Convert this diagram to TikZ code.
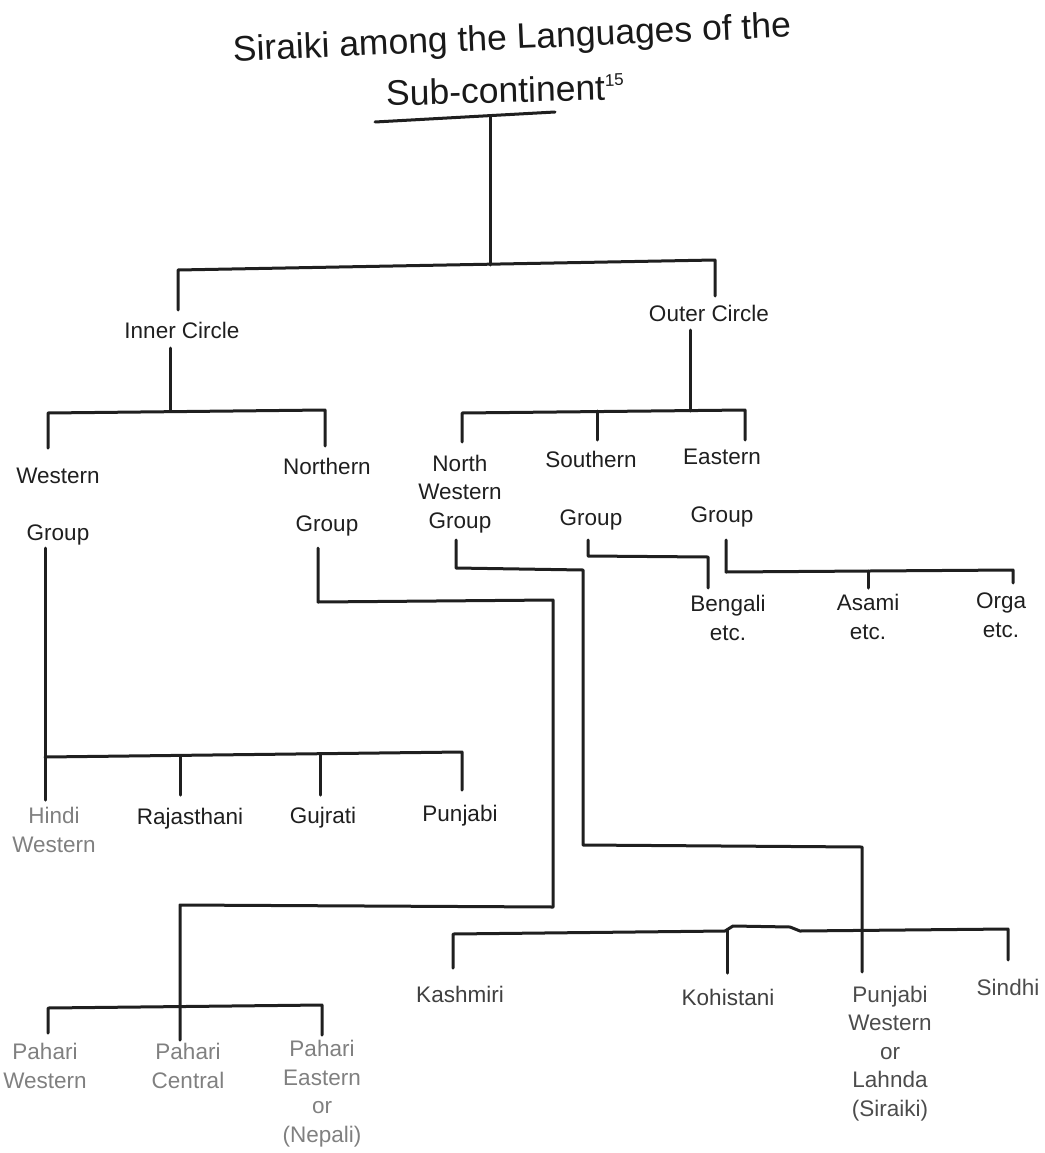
\documentclass[tikz,border=0pt]{standalone}
\usepackage{fontspec}
\setmainfont{Liberation Sans}
\begin{document}
\begin{tikzpicture}[x=1pt,y=-1pt,
  lbl/.style={font=\fontsize{22.5}{28.5}\selectfont, inner sep=0pt, anchor=base, align=center, text=black!88},
  faint/.style={text=black!50},
  ttl/.style={font=\fontsize{35.5}{40}\selectfont, inner sep=0pt, text=black!90},
  ln/.style={line width=3pt, line cap=round, line join=round, draw=black!88}]
\useasboundingbox (0,0) rectangle (1044,1153);

% ---------- title ----------
\node[ttl, rotate=2.5] (title) at (512,40) {Siraiki among the Languages of the};
\node[ttl, rotate=1.5] (title2) at (505,90) {Sub-continent\raisebox{14pt}{\fontsize{17}{20}\selectfont 15}};

% ---------- labels (anchor = baseline of the last line) ----------
\node[lbl] (inner) at (182,338) {Inner Circle};
\node[lbl] (outer) at (709,321) {Outer Circle};
\node[lbl] (western) at (58,540) {Western\\[28.5pt]Group};
\node[lbl] (northern) at (327,531) {Northern\\[28.5pt]Group};
\node[lbl] (nw) at (460,528) {North\\Western\\Group};
\node[lbl] (southern) at (591,525) {Southern\\[29pt]Group};
\node[lbl] (eastern) at (722,522) {Eastern\\[29pt]Group};
\node[lbl] (bengali) at (728,640) {Bengali\\etc.};
\node[lbl] (asami) at (868,639) {Asami\\etc.};
\node[lbl] (orga) at (1001,637) {Orga\\etc.};
\node[lbl, faint] (hindi) at (54,852) {Hindi\\Western};
\node[lbl] (rajasthani) at (190,824) {Rajasthani};
\node[lbl] (gujrati) at (323,823) {Gujrati};
\node[lbl] (punjabi) at (460,821) {Punjabi};
\node[lbl, text=black!75] (kashmiri) at (460,1002) {Kashmiri};
\node[lbl, text=black!75] (kohistani) at (728,1005) {Kohistani};
\node[lbl, text=black!70] (lahnda) at (890,1116) {Punjabi\\Western\\or\\Lahnda\\(Siraiki)};
\node[lbl, text=black!70] (sindhi) at (1008,995) {Sindhi};
\node[lbl, faint] (paharw) at (45,1088) {Pahari\\Western};
\node[lbl, faint] (paharc) at (188,1088) {Pahari\\Central};
\node[lbl, faint] (pahare) at (322,1142) {Pahari\\Eastern\\or\\(Nepali)};

% ---------- junction points ----------
\coordinate (ulL) at (375,122); \coordinate (ulR) at (555,112);
\coordinate (root) at (490,117); \coordinate (rootB) at (490,265);
\coordinate (b1L) at (178,270); \coordinate (b1R) at (715,260);
\coordinate (d1L) at (178,310); \coordinate (d1R) at (715,296);

\coordinate (inS) at (170,348); \coordinate (inB) at (170,411);
\coordinate (b2L) at (48,413); \coordinate (b2R) at (325,410);
\coordinate (d2L) at (48,448); \coordinate (d2R) at (325,446);

\coordinate (outS) at (690,330); \coordinate (outB) at (690,411);
\coordinate (b3L) at (462,413); \coordinate (b3M) at (597,411); \coordinate (b3R) at (745,410);
\coordinate (d3L) at (462,442); \coordinate (d3M) at (597,440); \coordinate (d3R) at (745,440);

\coordinate (soS) at (588,540); \coordinate (soK) at (588,556); \coordinate (soK2) at (708,557); \coordinate (soE) at (708,588);
\coordinate (eaS) at (726,540); \coordinate (eaK) at (726,572); \coordinate (eaR) at (1013,570); \coordinate (eaE) at (1013,583);
\coordinate (eaM) at (868,571); \coordinate (eaME) at (868,588);

\coordinate (nwS) at (456,540); \coordinate (nwK) at (456,568); \coordinate (nwK2) at (583,570);
\coordinate (nwK3) at (583,845); \coordinate (nwK4) at (862,847); \coordinate (nwE) at (862,972);
\coordinate (kL) at (453,934); \coordinate (kLE) at (453,968);
\coordinate (kb1) at (725,931); \coordinate (kb2) at (733,926); \coordinate (kb3) at (790,927); \coordinate (kb4) at (800,931);
\coordinate (kR) at (1008,929); \coordinate (kRE) at (1008,960);
\coordinate (kM) at (727,930); \coordinate (kME) at (727,973);

\coordinate (noS) at (318,548); \coordinate (noK) at (318,602); \coordinate (noK2) at (553,600);
\coordinate (noK3) at (553,907); \coordinate (noK4) at (180,905); \coordinate (noE) at (180,1040);
\coordinate (pL) at (48,1008); \coordinate (pLE) at (48,1033);
\coordinate (pR) at (322,1005); \coordinate (pRE) at (322,1035);

\coordinate (weS) at (45,548); \coordinate (weE) at (45,800);
\coordinate (hb) at (45,757); \coordinate (hR) at (462,752); \coordinate (hRE) at (462,790);
\coordinate (hM1) at (180,756); \coordinate (hM1E) at (180,795);
\coordinate (hM2) at (320,754); \coordinate (hM2E) at (320,795);

% ---------- connectors ----------
\draw[ln] (ulL) -- (ulR);
\draw[ln] (root) -- (rootB);
\draw[ln] (d1L) -- (b1L) -- (b1R) -- (d1R);

\draw[ln] (inS) -- (inB);
\draw[ln] (d2L) -- (b2L) -- (b2R) -- (d2R);

\draw[ln] (outS) -- (outB);
\draw[ln] (d3L) -- (b3L) -- (b3R) -- (d3R);
\draw[ln] (b3M) -- (d3M);

\draw[ln] (soS) -- (soK) -- (soK2) -- (soE);
\draw[ln] (eaS) -- (eaK) -- (eaR) -- (eaE);
\draw[ln] (eaM) -- (eaME);

\draw[ln] (nwS) -- (nwK) -- (nwK2) -- (nwK3) -- (nwK4) -- (nwE);
\draw[ln] (kLE) -- (kL) -- (kb1) -- (kb2) -- (kb3) -- (kb4) -- (kR) -- (kRE);
\draw[ln] (kM) -- (kME);

\draw[ln] (noS) -- (noK) -- (noK2) -- (noK3) -- (noK4) -- (noE);
\draw[ln] (pLE) -- (pL) -- (pR) -- (pRE);

\draw[ln] (weS) -- (weE);
\draw[ln] (hb) -- (hR) -- (hRE);
\draw[ln] (hM1) -- (hM1E);
\draw[ln] (hM2) -- (hM2E);
\end{tikzpicture}
\end{document}
